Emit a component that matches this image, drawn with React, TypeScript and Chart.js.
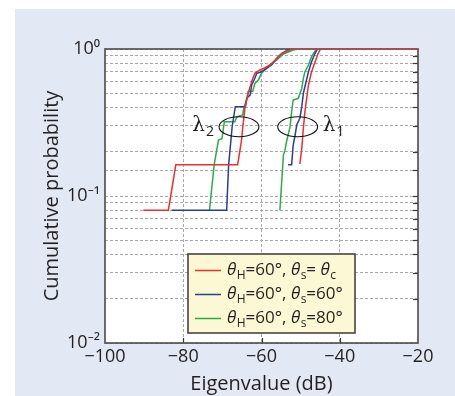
import React, { useEffect, useRef } from "react";
import { Chart, registerables } from "chart.js";

Chart.register(...registerables);

// ---- axis ticks ----
const xTickValues = [-100, -80, -60, -40, -20];
const yDecades = [0.01, 0.1, 1];

// ---- series: theta_s = theta_c (red) ----
const redL2X = [-90.2, -83.8, -81.9, -66.1, -65.1, -64.8, -64.2, -63.4, -62.5, -61.7, -60.4, -59.1, -57.8, -56.5, -55.3, -54.0, -52.3, -51.0, -20];
const redL2Y = [0.08, 0.08, 0.163, 0.163, 0.24, 0.29, 0.405, 0.5, 0.6, 0.684, 0.72, 0.746, 0.778, 0.842, 0.91, 0.958, 0.995, 1.0, 1.0];
const redL1X = [-50.2, -49.7, -49.3, -48.9, -48.45, -48.0, -47.2, -46.3, -45.5, -44.9, -20];
const redL1Y = [0.165, 0.211, 0.289, 0.375, 0.462, 0.569, 0.7, 0.82, 0.935, 1.0, 1.0];

// ---- series: theta_s = 60 (blue) ----
const blueL2X = [-83.0, -68.9, -68.4, -67.5, -66.7, -64.1, -63.8, -62.9, -62.5, -61.7, -61.2, -60.0, -58.7, -57.4, -56.1, -54.8, -53.2, -52.5];
const blueL2Y = [0.08, 0.08, 0.163, 0.296, 0.405, 0.405, 0.462, 0.486, 0.569, 0.632, 0.684, 0.7, 0.739, 0.778, 0.864, 0.935, 0.984, 1.0];
const blueL1X = [-53.2, -52.3, -51.9, -51.4, -51.0, -50.2, -49.7, -49.3, -48.6, -48.0, -47.2, -46.3, -45.7];
const blueL1Y = [0.163, 0.163, 0.222, 0.26, 0.304, 0.338, 0.405, 0.5, 0.599, 0.7, 0.82, 0.935, 1.0];

// ---- series: theta_s = 80 (green) ----
const greenL2X = [-73.3, -72.1, -71.0, -70.1, -69.5, -66.8, -66.3, -64.8, -64.5, -63.8, -63.4, -62.25, -61.7, -60.8, -60.0, -58.7, -57.4, -56.1, -54.4, -51.9, -50.6];
const greenL2Y = [0.08, 0.163, 0.24, 0.245, 0.32, 0.32, 0.346, 0.356, 0.4, 0.45, 0.513, 0.513, 0.584, 0.615, 0.684, 0.739, 0.8, 0.842, 0.925, 0.984, 1.0];
const greenL1X = [-55.3, -54.4, -54.0, -53.6, -52.7, -52.3, -51.9, -50.6, -49.7, -49.3, -48.9, -48.0, -47.2, -46.3, -45.9];
const greenL1Y = [0.08, 0.19, 0.205, 0.234, 0.296, 0.375, 0.45, 0.462, 0.541, 0.632, 0.7, 0.778, 0.887, 0.969, 1.0];

// ---- legend labels (text parts: [text, style]) ----
const legendLabels: [string, string][][] = [
  [["θ", "i"], ["H", "sub"], ["=60°, ", "n"], ["θ", "i"], ["s", "sub"], ["= ", "n"], ["θ", "i"], ["c", "sub"]],
  [["θ", "i"], ["H", "sub"], ["=60°, ", "n"], ["θ", "i"], ["s", "sub"], ["=60°", "n"]],
  [["θ", "i"], ["H", "sub"], ["=60°, ", "n"], ["θ", "i"], ["s", "sub"], ["=80°", "n"]],
];
const seriesColors = ["#e8312f", "#273f98", "#2aac48"];

// ---- group annotations (eigenvalue groups) ----
const groupNames = ["2", "1"];
const groupCenterX = [-65.75, -50.75];
const groupCenterP = [0.296, 0.296];

const FONT = "'Open Sans', 'Noto Sans', sans-serif";
const TEXT = "#231f20";

function sup(n: number): string {
  const map: Record<string, string> = { "-": "⁻", "0": "⁰", "1": "¹", "2": "²" };
  return String(n).split("").map((c) => map[c] || c).join("");
}

function pts(xs: number[], ys: number[]) {
  return xs.map((x, i) => ({ x, y: ys[i] }));
}

const decorPlugin = {
  id: "decor",
  beforeDraw(chart: any) {
    const { ctx, chartArea: ca } = chart;
    ctx.save();
    ctx.fillStyle = "#ffffff";
    ctx.fillRect(ca.left, ca.top, ca.right - ca.left, ca.bottom - ca.top);
    ctx.restore();
  },
  beforeDatasetsDraw(chart: any) {
    const { ctx, chartArea: ca, scales } = chart;
    ctx.save();
    ctx.strokeStyle = "#3a3a3a";
    ctx.lineWidth = 1.2;
    scales.x.ticks.forEach((t: any) => {
      if (t.value <= -100 || t.value >= -20) return;
      const px = Math.round(scales.x.getPixelForValue(t.value)) + 0.5;
      ctx.beginPath();
      ctx.moveTo(px, ca.bottom);
      ctx.lineTo(px, ca.bottom - 5);
      ctx.stroke();
    });
    scales.y.ticks.forEach((t: any) => {
      if (t.value <= 0.01 || t.value >= 1) return;
      const py = Math.round(scales.y.getPixelForValue(t.value)) + 0.5;
      ctx.beginPath();
      ctx.moveTo(ca.right, py);
      ctx.lineTo(ca.right - 5, py);
      ctx.stroke();
    });
    ctx.strokeStyle = "#4a4a4a";
    ctx.lineWidth = 1.6;
    ctx.strokeRect(ca.left, ca.top, ca.right - ca.left, ca.bottom - ca.top);
    ctx.restore();
  },
  afterDatasetsDraw(chart: any) {
    const { ctx, chartArea: ca, scales } = chart;
    const xs = scales.x;
    const ys = scales.y;
    ctx.save();
    groupNames.forEach((name, i) => {
      const cx = xs.getPixelForValue(groupCenterX[i]);
      const cy = ys.getPixelForValue(groupCenterP[i]);
      const rx = xs.getPixelForValue(groupCenterX[i] + 5.1) - cx;
      const ry = cy - ys.getPixelForValue(groupCenterP[i] * Math.pow(10, 0.068));
      ctx.strokeStyle = "#111";
      ctx.lineWidth = 1.1;
      ctx.beginPath();
      ctx.ellipse(cx, cy, rx, ry, 0, 0, Math.PI * 2);
      ctx.stroke();
      ctx.fillStyle = TEXT;
      ctx.textBaseline = "middle";
      const bigFont = "20px 'DejaVu Serif', serif";
      const subFont = "14px " + FONT;
      ctx.font = bigFont;
      const wL = ctx.measureText("λ").width;
      ctx.font = subFont;
      const wS = ctx.measureText(name).width;
      let x0: number;
      if (i === 0) x0 = cx - rx - 5 - wL - wS - 1;
      else x0 = cx + rx + 5;
      ctx.font = bigFont;
      ctx.textAlign = "left";
      ctx.fillText("λ", x0, cy - 1);
      ctx.font = subFont;
      ctx.fillText(name, x0 + wL + 1, cy + 5);
    });

    const bx = ca.left + 83;
    const by = ca.top + 205;
    const bw = 167;
    const bh = 79;
    ctx.fillStyle = "#fdf8d4";
    ctx.fillRect(bx, by, bw, bh);
    ctx.strokeStyle = "#444";
    ctx.lineWidth = 1.6;
    ctx.strokeRect(bx, by, bw, bh);
    legendLabels.forEach((parts, i) => {
      const y = by + 16 + i * 24;
      ctx.strokeStyle = seriesColors[i];
      ctx.lineWidth = 1.5;
      ctx.beginPath();
      ctx.moveTo(bx + 7, y + 0.5);
      ctx.lineTo(bx + 33, y + 0.5);
      ctx.stroke();
      let x = bx + 39;
      ctx.fillStyle = TEXT;
      ctx.textAlign = "left";
      ctx.textBaseline = "middle";
      parts.forEach(([t, s]) => {
        let dy = 0;
        if (s === "i") ctx.font = "italic 17px " + FONT;
        else if (s === "sub") { ctx.font = "12px " + FONT; dy = 6; }
        else ctx.font = "17px " + FONT;
        ctx.fillText(t, x, y + dy);
        x += ctx.measureText(t).width + (s === "i" ? 0.5 : 0);
      });
    });
    ctx.restore();
  },
};

export default function App() {
  const ref = useRef<HTMLCanvasElement | null>(null);
  useEffect(() => {
    if (!ref.current) return;
    const mk = (xs: number[], ys: number[], color: string, label: string) => ({
      label,
      data: pts(xs, ys),
      borderColor: color,
      backgroundColor: color,
      borderWidth: 1.5,
      pointRadius: 0,
      tension: 0,
      fill: false,
    });
    const chart = new Chart(ref.current, {
      type: "line",
      data: {
        datasets: [
          mk(redL2X, redL2Y, seriesColors[0], "θH=60°, θs=θc (λ2)"),
          mk(redL1X, redL1Y, seriesColors[0], "θH=60°, θs=θc (λ1)"),
          mk(blueL2X, blueL2Y, seriesColors[1], "θH=60°, θs=60° (λ2)"),
          mk(blueL1X, blueL1Y, seriesColors[1], "θH=60°, θs=60° (λ1)"),
          mk(greenL2X, greenL2Y, seriesColors[2], "θH=60°, θs=80° (λ2)"),
          mk(greenL1X, greenL1Y, seriesColors[2], "θH=60°, θs=80° (λ1)"),
        ],
      },
      options: {
        animation: false,
        responsive: false,
        maintainAspectRatio: false,
        layout: { padding: { left: 0, top: 40, right: 37, bottom: 0 } },
        plugins: { legend: { display: false }, tooltip: { enabled: false } },
        scales: {
          x: {
            type: "linear",
            min: -100,
            max: -20,
            afterBuildTicks: (scale: any) => {
              scale.ticks = xTickValues.map((v) => ({ value: v }));
            },
            afterFit: (scale: any) => {
              scale.height = 53;
            },
            ticks: {
              autoSkip: false,
              maxRotation: 0,
              padding: 3,
              color: TEXT,
              font: { family: FONT, size: 18 },
              callback: (v: any) => (v < 0 ? "\u2212" + Math.abs(v) : String(v)),
            },
            grid: {
              drawTicks: false,
              color: (c: any) => (c.tick && (c.tick.value <= -100 || c.tick.value >= -20) ? "rgba(0,0,0,0)" : "#a8a8a8"),
              lineWidth: 1,
            },
            border: { display: false, dash: [3, 2] },
            title: {
              display: true,
              text: "Eigenvalue (dB)",
              color: TEXT,
              font: { family: FONT, size: 20 },
              padding: { top: 0, bottom: 0 },
            },
          },
          y: {
            type: "logarithmic",
            min: 0.01,
            max: 1,
            afterFit: (scale: any) => {
              scale.width = 90;
            },
            ticks: {
              autoSkip: false,
              padding: 5,
              color: TEXT,
              font: { family: FONT, size: 18 },
              callback: (v: any) => {
                const val = Number(v);
                const hit = yDecades.find((d) => Math.abs(d - val) / d < 1e-6);
                if (hit === undefined) return "";
                return "10" + sup(Math.round(Math.log10(hit)));
              },
            },
            grid: {
              drawTicks: false,
              color: "#a8a8a8",
              lineWidth: 1,
            },
            border: { display: false, dash: [3, 2] },
            title: {
              display: true,
              text: "Cumulative probability",
              color: TEXT,
              font: { family: FONT, size: 20 },
              padding: { top: 25, bottom: 0 },
            },
          },
        },
      },
      plugins: [decorPlugin],
    } as any);
    return () => chart.destroy();
  }, []);

  return (
    <div style={{ position: "absolute", left: 0, top: 0, width: 455, height: 396, background: "#ffffff", overflow: "hidden" }}>
      <div style={{ position: "absolute", left: 15, top: 9, width: 440, height: 387, background: "#e2e9f4" }}>
        <canvas ref={ref} width={440} height={387} style={{ display: "block", width: 440, height: 387 }} />
      </div>
    </div>
  );
}
